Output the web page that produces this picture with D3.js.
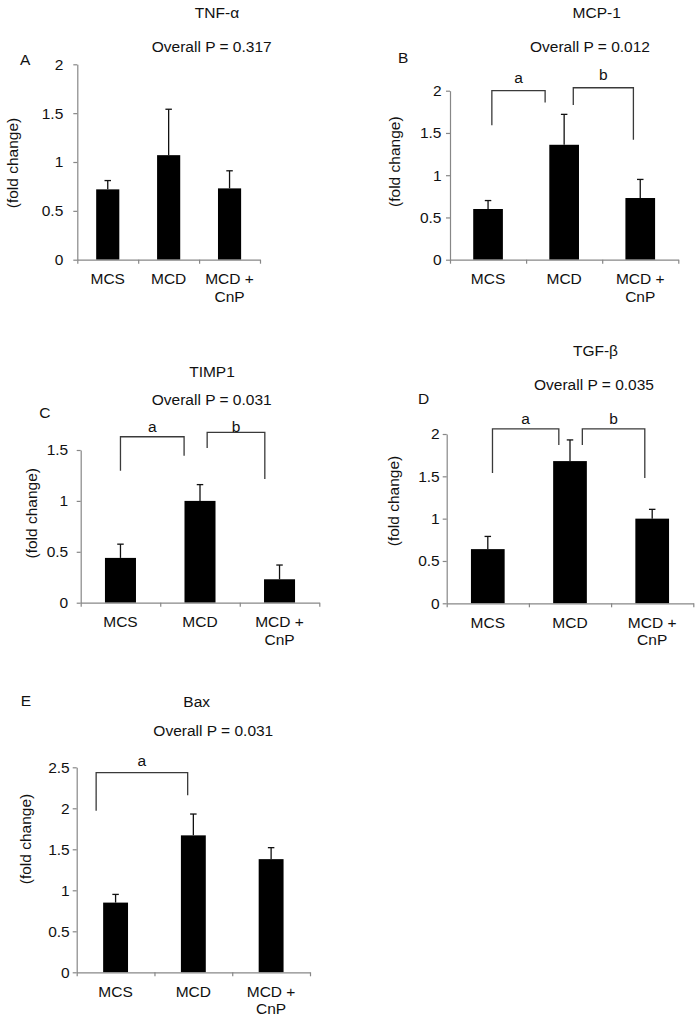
<!DOCTYPE html>
<html>
<head>
<meta charset="utf-8">
<script src="https://cdn.jsdelivr.net/npm/d3@7"></script>
<style>
  html, body { margin: 0; padding: 0; background: #fff; }
  svg { display: block; }
  text { font-family: "Liberation Sans", Arial, Helvetica, sans-serif; fill: #111; }
</style>
</head>
<body>
<svg id="chart" width="700" height="1020"></svg>
<script>
// ---------------- DATA ----------------
const categories = ["MCS", "MCD", "MCD + CnP"];

const tnfMean  = [0.72, 1.07, 0.73];
const tnfErr   = [0.09, 0.47, 0.18];
const mcpMean  = [0.60, 1.36, 0.73];
const mcpErr   = [0.10, 0.36, 0.22];
const timpMean = [0.44, 1.00, 0.23];
const timpErr  = [0.135, 0.16, 0.14];
const tgfMean  = [0.64, 1.68, 1.00];
const tgfErr   = [0.15, 0.25, 0.11];
const baxMean  = [0.85, 1.67, 1.38];
const baxErr   = [0.10, 0.26, 0.14];

const tnfTicks  = [0, 0.5, 1, 1.5, 2];
const mcpTicks  = [0, 0.5, 1, 1.5, 2];
const timpTicks = [0, 0.5, 1, 1.5];
const tgfTicks  = [0, 0.5, 1, 1.5, 2];
const baxTicks  = [0, 0.5, 1, 1.5, 2, 2.5];

const titles   = ["TNF-\u03B1", "MCP-1", "TIMP1", "TGF-\u03B2", "Bax"];
const pValues  = ["0.317", "0.012", "0.031", "0.035", "0.031"];
const letters  = ["A", "B", "C", "D", "E"];
const yLabel   = "(fold change)";

// significance brackets: category indices, heights in data units
const tnfBrackets  = [];
const mcpBrackets  = [
  {from: 0, to: 1, top: 2.00, left: 1.59, right: 1.86, label: "a"},
  {from: 1, to: 2, top: 2.035, left: 1.83, right: 1.42, label: "b"}
];
const timpBrackets = [
  {from: 0, to: 1, top: 1.63, left: 1.297, right: 1.444, label: "a"},
  {from: 1, to: 2, top: 1.674, left: 1.52, right: 1.215, label: "b"}
];
const tgfBrackets  = [
  {from: 0, to: 1, top: 2.06, left: 1.54, right: 1.87, label: "a"},
  {from: 1, to: 2, top: 2.06, left: 1.87, right: 1.48, label: "b"}
];
const baxBrackets  = [
  {from: 0, to: 1, top: 2.434, left: 1.97, right: 2.16, label: "a"}
];

// ---------------- LAYOUT ----------------
const layout = [
  {x0: 77.3, x1: 260, yTopPx: 64.3, y0: 259.7, barFrac: 0.38, tickPad: 10,
   title: [217, 18], p: [211.7, 51.5], letter: [20, 65], ylab: [13, 163],
   brOff: [], labDy: []},
  {x0: 450, x1: 678.3, yTopPx: 90.7, y0: 259.7, barFrac: 0.39, tickPad: 4.5,
   title: [596.7, 18.3], p: [590, 52], letter: [398, 63], ylab: [395, 161.7],
   brOff: [[0.05, -0.25], [0.12, -0.09]], labDy: [-7.5, -7.5]},
  {x0: 80.7, x1: 319.3, yTopPx: 450, y0: 602.7, barFrac: 0.39, tickPad: 8.5,
   title: [212, 376.5], p: [211.7, 405], letter: [39.3, 418.3], ylab: [31.3, 513.3],
   brOff: [[0, -0.2], [0.09, -0.185]], labDy: [-4.5, -0.5]},
  {x0: 446.7, x1: 693.3, yTopPx: 434, y0: 603.3, barFrac: 0.41, tickPad: 3,
   title: [595.5, 356], p: [594, 390], letter: [418, 404], ylab: [394, 501],
   brOff: [[0.057, -0.136], [0.15, -0.09]], labDy: [-5, -5]},
  {x0: 76.7, x1: 310, yTopPx: 767.3, y0: 972.3, barFrac: 0.32, tickPad: 3,
   title: [196.7, 707], p: [213.3, 735.5], letter: [20.7, 706], ylab: [26, 839],
   brOff: [[-0.25, -0.073]], labDy: [-6.7]}
];

const means    = [tnfMean, mcpMean, timpMean, tgfMean, baxMean];
const errs     = [tnfErr, mcpErr, timpErr, tgfErr, baxErr];
const ticks    = [tnfTicks, mcpTicks, timpTicks, tgfTicks, baxTicks];
const brackets = [tnfBrackets, mcpBrackets, timpBrackets, tgfBrackets, baxBrackets];

const FONT = 15.5;
const AXIS_COLOR = "#878787";

const svg = d3.select("#chart");

layout.forEach((L, i) => {
  const g = svg.append("g");
  const t = ticks[i];
  const y = d3.scaleLinear().domain([0, t[t.length - 1]]).range([L.y0, L.yTopPx]);
  const x = d3.scaleBand().domain(d3.range(categories.length)).range([L.x0, L.x1]).padding(0);
  const xLin = d3.scaleLinear().domain([0, categories.length]).range([L.x0, L.x1]);
  const bw = x.bandwidth() * L.barFrac;
  const cx = k => x(k) + x.bandwidth() / 2;

  // bars
  g.selectAll("rect.bar").data(means[i]).enter().append("rect")
    .attr("class", "bar")
    .attr("x", (d, k) => cx(k) - bw / 2)
    .attr("width", bw)
    .attr("y", d => y(d))
    .attr("height", d => y(0) - y(d))
    .attr("fill", "#000");

  // error bars
  const capW = 6.5;
  means[i].forEach((m, k) => {
    const top = y(m + errs[i][k]);
    g.append("line").attr("x1", cx(k)).attr("x2", cx(k))
      .attr("y1", y(m)).attr("y2", top)
      .attr("stroke", "#111").attr("stroke-width", 1.3);
    g.append("line").attr("x1", cx(k) - capW / 2).attr("x2", cx(k) + capW / 2)
      .attr("y1", top).attr("y2", top)
      .attr("stroke", "#111").attr("stroke-width", 1.3);
  });

  // y axis
  const yAxis = d3.axisLeft(y).tickValues(t).tickSize(4).tickSizeOuter(0)
    .tickPadding(L.tickPad).tickFormat(d => String(d));
  const ya = g.append("g").attr("transform", `translate(${L.x0},0)`).call(yAxis);
  ya.select(".domain").attr("stroke", AXIS_COLOR).attr("stroke-width", 1.2);
  ya.selectAll(".tick line").attr("stroke", AXIS_COLOR).attr("stroke-width", 1.2);
  ya.selectAll(".tick text").attr("font-size", FONT)
    .style("font-family", '"Liberation Sans", Arial, sans-serif').attr("fill", "#111");

  // x axis (ticks at category boundaries)
  const xAxis = d3.axisBottom(xLin).tickValues(d3.range(categories.length + 1))
    .tickSize(4).tickSizeOuter(0).tickFormat("");
  const xa = g.append("g").attr("transform", `translate(0,${L.y0})`).call(xAxis);
  xa.select(".domain").attr("stroke", AXIS_COLOR).attr("stroke-width", 1.2);
  xa.selectAll(".tick line").attr("stroke", AXIS_COLOR).attr("stroke-width", 1.2);

  // category labels
  categories.forEach((c, k) => {
    const parts = c === "MCD + CnP" ? ["MCD +", "CnP"] : [c];
    const tx = g.append("text").attr("text-anchor", "middle")
      .attr("font-size", FONT).attr("x", cx(k)).attr("y", L.y0 + 24.5);
    parts.forEach((p, j) => {
      tx.append("tspan").attr("x", cx(k)).attr("dy", j === 0 ? 0 : 17.5).text(p);
    });
  });

  // y label
  g.append("text").attr("text-anchor", "middle").attr("font-size", FONT)
    .attr("transform", `translate(${L.ylab[0]},${L.ylab[1]}) rotate(-90)`)
    .attr("dy", "0.35em").text(yLabel);

  // titles
  g.append("text").attr("text-anchor", "middle").attr("font-size", FONT)
    .attr("x", L.title[0]).attr("y", L.title[1]).text(titles[i]);
  g.append("text").attr("text-anchor", "middle").attr("font-size", FONT)
    .attr("x", L.p[0]).attr("y", L.p[1]).text("Overall P = " + pValues[i]);
  g.append("text").attr("text-anchor", "start").attr("font-size", FONT)
    .attr("x", L.letter[0]).attr("y", L.letter[1]).text(letters[i]);

  // significance brackets
  brackets[i].forEach((b, j) => {
    const off = L.brOff[j];
    const xl = cx(b.from) + off[0] * x.bandwidth();
    const xr = cx(b.to) + off[1] * x.bandwidth();
    const path = d3.path();
    path.moveTo(xl, y(b.left));
    path.lineTo(xl, y(b.top));
    path.lineTo(xr, y(b.top));
    path.lineTo(xr, y(b.right));
    g.append("path").attr("d", path.toString()).attr("fill", "none")
      .attr("stroke", "#3a3a3a").attr("stroke-width", 1.3);
    g.append("text").attr("text-anchor", "middle").attr("font-size", FONT)
      .attr("x", (xl + xr) / 2).attr("y", y(b.top) + L.labDy[j]).text(b.label);
  });
});
</script>
</body>
</html>
